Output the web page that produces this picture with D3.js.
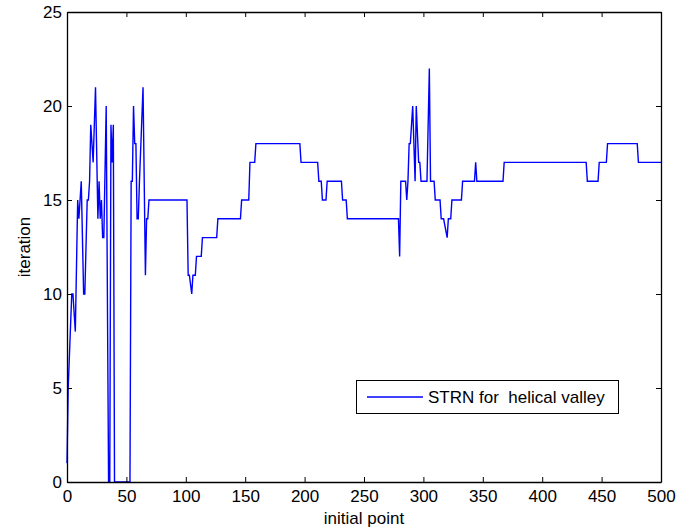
<!DOCTYPE html>
<html>
<head>
<meta charset="utf-8">
<script src="https://cdn.jsdelivr.net/npm/d3@7"></script>
<style>
html,body{margin:0;padding:0;background:#fff;}
svg{display:block;font-family:"Liberation Sans",Arial,sans-serif;}
</style>
</head>
<body>
<svg id="chart" width="678" height="532"></svg>
<script>
// breakpoints of the series (initial point, iteration)
const pointX = [0,1,4,5,7,9,10,11,12,14,15,17,18,19,20,22,24,26,27,28,29,30,31,33,35,36,37,38,39,40,
  53,54,55,56,57,58,59,60,61,64,66,67,68,69,
  101,102,103,105,106,108,109,113,114,126,127,146,147,153,154,158,159,196,197,
  211,212,214,215,218,219,231,232,235,236,279,280,281,285,286,287,288,289,291,293,294,296,297,298,303,305,306,
  309,310,314,315,317,320,321,323,324,332,333,343,344,345,367,368,437,438,447,448,454,455,480,481,500];
const iterY  = [1,5,10,10,8,15,14,15,16,10,10,15,15,16,19,17,21,14,16,14,15,13,13,20,0,0,19,17,19,0,
  0,16,16,20,18,18,14,14,16,21,11,14,14,15,
  15,11,11,10,11,11,12,12,13,13,14,14,15,15,17,17,18,18,17,
  17,16,16,15,15,16,16,15,15,14,14,12,16,16,15,16,18,18,20,16,20,17,17,16,16,22,16,
  16,15,15,14,14,13,14,14,15,15,16,16,17,16,16,17,17,16,16,17,17,18,18,17,17];
const xTicks = [0,50,100,150,200,250,300,350,400,450,500];
const yTicks = [0,5,10,15,20,25];
const seriesName = "STRN for  helical valley";
const xLabel = "initial point";
const yLabel = "iteration";

const FS = "17px";
const svg = d3.select("#chart");
const L = 67, R = 661, T = 12, B = 482;
const xs = d3.scaleLinear().domain([0,500]).range([L,R]);
const ys = d3.scaleLinear().domain([0,25]).range([B,T]);

const data = pointX.map((d,i)=>[d, iterY[i]]);

// data line
svg.append("path")
  .datum(data)
  .attr("fill","none")
  .attr("stroke","#0000ff")
  .attr("stroke-width",1.4)
  .attr("stroke-linejoin","miter")
  .attr("d", d3.line().x(d=>xs(d[0])).y(d=>ys(d[1])));

// axes (MATLAB style, inward ticks, mirrored)
const tk = 5;
const gBottom = svg.append("g").attr("transform",`translate(0,${B})`)
  .call(d3.axisBottom(xs).tickValues(xTicks).tickSizeInner(-tk).tickSizeOuter(0).tickPadding(8));
const gTop = svg.append("g").attr("transform",`translate(0,${T})`)
  .call(d3.axisTop(xs).tickValues(xTicks).tickSizeInner(-tk).tickSizeOuter(0).tickFormat(""));
const gLeft = svg.append("g").attr("transform",`translate(${L},0)`)
  .call(d3.axisLeft(ys).tickValues(yTicks).tickSizeInner(-tk).tickSizeOuter(0).tickPadding(5));
const gRight = svg.append("g").attr("transform",`translate(${R},0)`)
  .call(d3.axisRight(ys).tickValues(yTicks).tickSizeInner(-tk).tickSizeOuter(0).tickFormat(""));

[gBottom,gTop,gLeft,gRight].forEach(g=>{
  g.selectAll(".domain").attr("stroke","#000").attr("stroke-width",1.3);
  g.selectAll(".tick line").attr("stroke","#000").attr("stroke-width",1);
  g.selectAll("text").attr("fill","#000").style("font-size",FS)
    .style("font-family","'Liberation Sans',Arial,sans-serif");
});

// axis labels
svg.append("text").attr("x",(L+R)/2).attr("y",524).attr("text-anchor","middle")
  .style("font-size",FS).text(xLabel);
svg.append("text").attr("transform",`translate(30,${(T+B)/2}) rotate(-90)`)
  .attr("text-anchor","middle").style("font-size",FS).text(yLabel);

// legend
const lg = svg.append("g");
lg.append("rect").attr("x",356.5).attr("y",380.5).attr("width",262).attr("height",33)
  .attr("fill","#fff").attr("stroke","#000").attr("stroke-width",1);
lg.append("line").attr("x1",367).attr("x2",423).attr("y1",397).attr("y2",397)
  .attr("stroke","#0000ff").attr("stroke-width",1.4);
lg.append("text").attr("x",428).attr("y",403).style("font-size",FS)
  .style("white-space","pre").attr("xml:space","preserve").text(seriesName);
</script>
</body>
</html>
